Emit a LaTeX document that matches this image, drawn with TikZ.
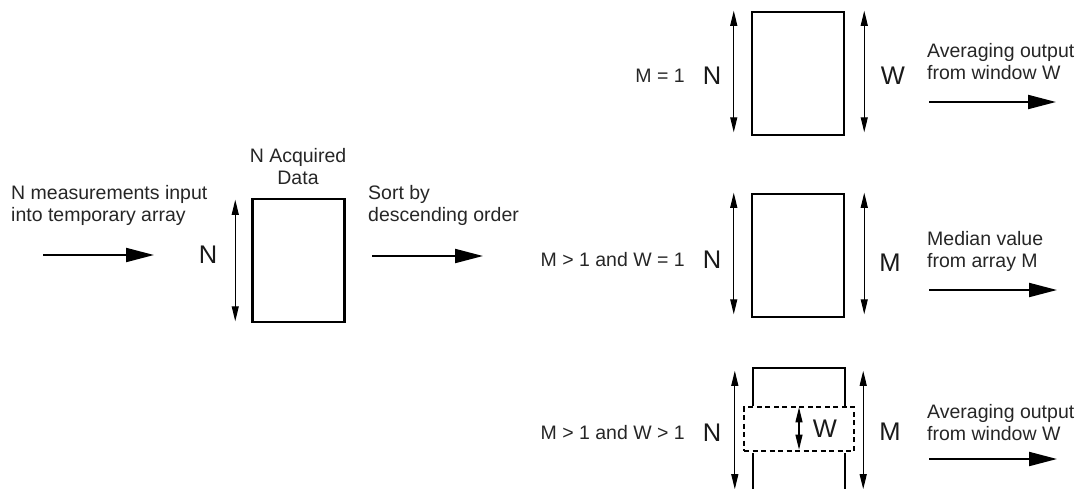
\documentclass[tikz,border=0pt]{standalone}
\usepackage{fontspec}
\setmainfont{Liberation Sans}
\usetikzlibrary{arrows.meta}

\begin{document}
\begin{tikzpicture}[x=1pt, y=-1pt,
  array/.style = {draw, line width=2.5pt, minimum width=92pt, minimum height=123pt, inner sep=0pt},
  flow/.style = {line width=2pt, -{Triangle[length=28pt, width=14pt]}},
  span/.style = {line width=1.1pt, {Triangle[length=15pt, width=7pt]}-{Triangle[length=15pt, width=7pt]}},
  note/.style = {text=black!85, font=\fontsize{19.5}{22}\selectfont, align=left, inner sep=0pt},
  size/.style = {text=black!90, font=\fontsize{25.5}{28}\selectfont, inner sep=0pt}]
  \useasboundingbox (0,0) rectangle (1078,488);
  \clip (0,0) rectangle (1078,488);

  % acquisition
  \node[note, anchor=west] (inputtxt) at (11,205) {N measurements input\\into temporary array};
  \coordinate (in0) at (43,255);
  \coordinate (in1) at (154,255);
  \node[size] (nacq) at (208,255) {N};
  \node[array] (acq) at (298.5,260.5) {};
  \node[note, align=center] (acqtxt) at (298,167) {N Acquired\\Data};
  \node[note, anchor=west] (sorttxt) at (368,205) {Sort by\\descending order};
  \coordinate (sort0) at (372,256);
  \coordinate (sort1) at (483,256);

  \draw[flow] (in0) -- (in1);
  \draw[span] ([xshift=-16pt, yshift=-2pt]acq.north west) -- ([xshift=-16pt, yshift=2pt]acq.south west);
  \draw[flow] (sort0) -- (sort1);

  % M = 1
  \node[note, anchor=east] (case1) at (685,76) {M = 1};
  \node[size] (n1) at (712,76) {N};
  \node[array] (win1) at (798,73.5) {};
  \node[size] (w1) at (893,76) {W};
  \node[note, anchor=west] (out1txt) at (927,62) {Averaging output\\from window W};
  \coordinate (out1a) at (929,102);
  \coordinate (out1b) at (1056,102);

  \draw[span] ([xshift=-17pt]win1.north west) -- ([xshift=-17pt, yshift=4pt]win1.south west);
  \draw[span] ([xshift=19pt]win1.north east) -- ([xshift=19pt, yshift=4pt]win1.south east);
  \draw[flow] (out1a) -- (out1b);

  % M > 1 and W = 1
  \node[note, anchor=east] (case2) at (685,260) {M > 1 and W = 1};
  \node[size] (n2) at (712,260) {N};
  \node[array] (win2) at (798,255.5) {};
  \node[size] (m2) at (890,263) {M};
  \node[note, anchor=west] (out2txt) at (927,251) {Median value\\from array M};
  \coordinate (out2a) at (929,290);
  \coordinate (out2b) at (1057,290);

  \draw[span] ([xshift=-17pt]win2.north west) -- ([xshift=-17pt, yshift=4pt]win2.south west);
  \draw[span] ([xshift=19pt]win2.north east) -- ([xshift=19pt, yshift=4pt]win2.south east);
  \draw[flow] (out2a) -- (out2b);

  % M > 1 and W > 1
  \node[note, anchor=east] (case3) at (685,433) {M > 1 and W > 1};
  \node[size] (n3) at (712,433) {N};
  \node[minimum width=92pt, minimum height=123pt, inner sep=0pt] (win3) at (799,429.5) {};
  \node[draw, dashed, line width=1.3pt, dash pattern=on 5pt off 3.5pt,
        minimum width=110pt, minimum height=44pt, inner sep=0pt] (slide) at (799,429) {};
  \node[size] (w3) at (825,429) {W};
  \node[size] (m3) at (890,432) {M};
  \node[note, anchor=west] (out3txt) at (927,423) {Averaging output\\from window W};
  \coordinate (out3a) at (929,459);
  \coordinate (out3b) at (1057,459);

  \draw[line width=2.5pt] ([yshift=-38pt]win3.north west) |- (win3.north) -| ([yshift=-38pt]win3.north east);
  \draw[line width=2.5pt] ([yshift=38pt]win3.south west) |- (win3.south) -| ([yshift=38pt]win3.south east);
  \draw[span] ([yshift=-1pt]slide.north) -- ([yshift=2pt]slide.south);
  \draw[span] ([xshift=-18pt, yshift=-3pt]win3.north west) -- ([xshift=-18pt, yshift=2pt]win3.south west);
  \draw[span] ([xshift=18pt, yshift=-3pt]win3.north east) -- ([xshift=18pt, yshift=2pt]win3.south east);
  \draw[flow] (out3a) -- (out3b);
\end{tikzpicture}
\end{document}
